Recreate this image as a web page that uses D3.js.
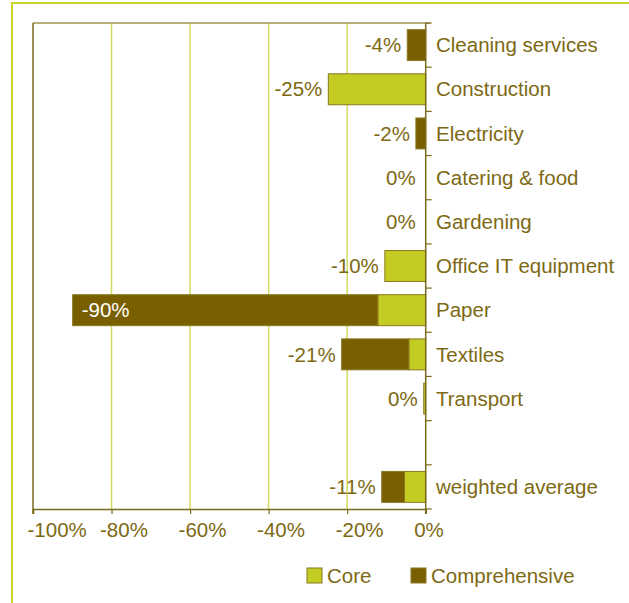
<!DOCTYPE html>
<html>
<head>
<meta charset="utf-8">
<script src="https://cdn.jsdelivr.net/npm/d3@7"></script>
<style>
  html, body { margin: 0; padding: 0; background: #fff; }
  svg { display: block; font-family: "Liberation Sans", Arial, Helvetica, sans-serif; }
</style>
</head>
<body>
<svg id="chart" width="629" height="603"></svg>
<script>
// ---- data ----
const categories = ["Cleaning services", "Construction", "Electricity", "Catering & food",
  "Gardening", "Office IT equipment", "Paper", "Textiles", "Transport", "", "weighted average"];
const coreValues = [0, -24.8, 0, 0, 0, -10.4, -12.2, -4.3, -0.5, null, -5.4];
const comprehensiveValues = [-4.7, 0, -2.5, 0, 0, 0, -77.7, -17.1, 0, null, -5.8];
const totalLabels = ["-4%", "-25%", "-2%", "0%", "0%", "-10%", "-90%", "-21%", "0%", "", "-11%"];
const xTicks = [-100, -80, -60, -40, -20, 0];
const seriesNames = ["Core", "Comprehensive"];

// ---- styles ----
const textColor = "#7d6913";
const coreColor = "#c3cc22";
const compColor = "#7a5f00";
const barStroke = "#8a7820";
const gridColor = "#d3db5c";
const frameColor = "#c9d42e";
const fs = 20.5;

const svg = d3.select("#chart");
const plot = { left: 33, right: 425.7, top: 23, bottom: 509 };

const x = d3.scaleLinear().domain([-100, 0]).range([plot.left, plot.right]);
const y = d3.scaleBand().domain(d3.range(categories.length))
  .range([plot.top, plot.bottom]).paddingInner(0.3).paddingOuter(0.15);
const slot = (plot.bottom - plot.top) / categories.length;

// outer frame
svg.append("line").attr("x1", 12).attr("x2", 12).attr("y1", 2).attr("y2", 603)
  .attr("stroke", frameColor).attr("stroke-width", 2);
svg.append("line").attr("x1", 11).attr("x2", 629).attr("y1", 3).attr("y2", 3)
  .attr("stroke", frameColor).attr("stroke-width", 2);

// gridlines
svg.append("g").selectAll("line").data(xTicks.filter(d => d > -100 && d < 0)).join("line")
  .attr("x1", d => x(d)).attr("x2", d => x(d))
  .attr("y1", plot.top).attr("y2", plot.bottom)
  .attr("stroke", gridColor).attr("stroke-width", 1.5);

// plot top border
svg.append("line").attr("x1", plot.left).attr("x2", plot.right + 4)
  .attr("y1", plot.top).attr("y2", plot.top)
  .attr("stroke", "#a3944f").attr("stroke-width", 1.5);
// plot left border
svg.append("line").attr("x1", plot.left).attr("x2", plot.left)
  .attr("y1", plot.top).attr("y2", plot.bottom + 5)
  .attr("stroke", "#7a6a1c").attr("stroke-width", 1.5);

// bars
const rows = categories.map((c, i) => ({ i, c, core: coreValues[i], comp: comprehensiveValues[i], label: totalLabels[i] }));
const barG = svg.append("g");
rows.forEach(r => {
  if (r.core == null) return;
  if (r.core < 0) {
    barG.append("rect")
      .attr("x", x(r.core)).attr("width", x(0) - x(r.core))
      .attr("y", y(r.i)).attr("height", y.bandwidth())
      .attr("fill", coreColor).attr("stroke", barStroke).attr("stroke-width", 1);
  }
  if (r.comp < 0) {
    barG.append("rect")
      .attr("x", x(r.core + r.comp)).attr("width", x(r.core) - x(r.core + r.comp))
      .attr("y", y(r.i)).attr("height", y.bandwidth())
      .attr("fill", compColor).attr("stroke", barStroke).attr("stroke-width", 1);
  }
});

// value labels
rows.forEach(r => {
  if (!r.label) return;
  const total = (r.core || 0) + (r.comp || 0);
  const cy = y(r.i) + y.bandwidth() / 2;
  const inside = x(total) - plot.left < 45;
  svg.append("text")
    .attr("x", inside ? x(total) + 9 : x(total) - (total === 0 ? 10 : 6))
    .attr("y", cy).attr("dy", "0.35em")
    .attr("text-anchor", inside ? "start" : "end")
    .attr("font-size", fs)
    .attr("fill", inside ? "#ffffff" : textColor)
    .text(r.label);
});

// right (zero) axis with ticks
svg.append("line").attr("x1", x(0)).attr("x2", x(0))
  .attr("y1", plot.top).attr("y2", plot.bottom + 5)
  .attr("stroke", "#7a6a1c").attr("stroke-width", 1.5);
svg.append("g").selectAll("line").data(d3.range(categories.length + 1)).join("line")
  .attr("x1", x(0)).attr("x2", x(0) + 6)
  .attr("y1", d => plot.top + d * slot).attr("y2", d => plot.top + d * slot)
  .attr("stroke", "#7a6a1c").attr("stroke-width", 1.2);

// category labels
svg.append("g").selectAll("text").data(rows).join("text")
  .attr("x", 436).attr("y", d => y(d.i) + y.bandwidth() / 2).attr("dy", "0.35em")
  .attr("font-size", fs).attr("fill", textColor)
  .text(d => d.c);

// bottom axis
const xAxis = d3.axisBottom(x).tickValues(xTicks).tickSize(5).tickFormat(d => d + "%");
const ax = svg.append("g").attr("transform", `translate(0,${plot.bottom})`).call(xAxis);
ax.select(".domain").attr("stroke", "#7a6a1c").attr("stroke-width", 1.5);
ax.selectAll(".tick line").attr("stroke", "#7a6a1c").attr("stroke-width", 1.2);
ax.selectAll(".tick text")
  .attr("font-family", "Liberation Sans, Arial, sans-serif")
  .attr("font-size", fs).attr("fill", textColor)
  .attr("text-anchor", "start")
  .attr("x", d => d === -100 ? -6 : -12)
  .attr("y", 21).attr("dy", "0.35em");

// legend
const legend = [
  { name: seriesNames[0], color: coreColor, sx: 307, tx: 327 },
  { name: seriesNames[1], color: compColor, sx: 411, tx: 431 }
];
const lg = svg.append("g");
legend.forEach(l => {
  lg.append("rect").attr("x", l.sx).attr("y", 568).attr("width", 15).attr("height", 15)
    .attr("fill", l.color).attr("stroke", barStroke).attr("stroke-width", 1);
  lg.append("text").attr("x", l.tx).attr("y", 576).attr("dy", "0.35em")
    .attr("font-size", fs).attr("fill", textColor).text(l.name);
});
</script>
</body>
</html>
